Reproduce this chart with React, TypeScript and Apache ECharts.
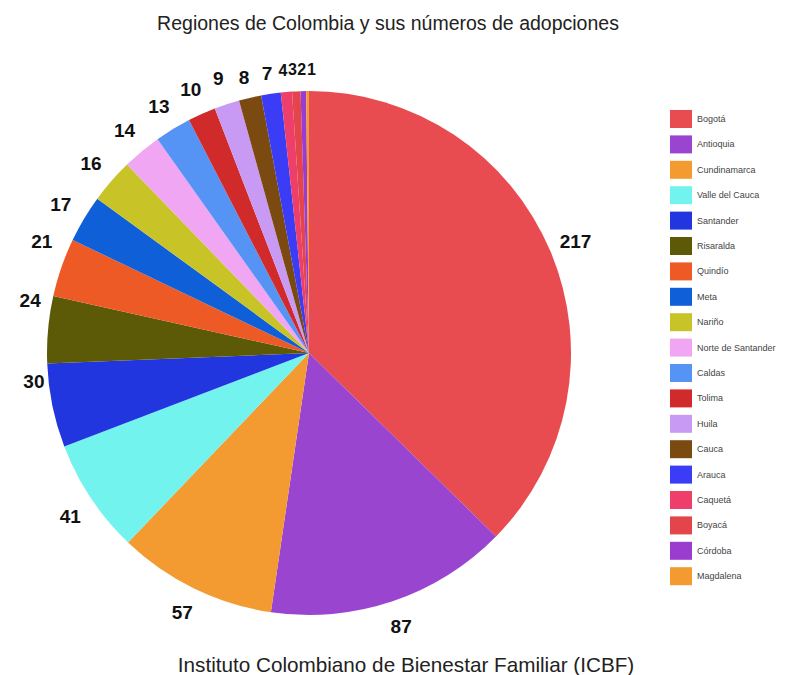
import React, { useEffect, useRef } from "react";
import * as echarts from "echarts";

const regions = [
  "Bogotá", "Antioquia", "Cundinamarca", "Valle del Cauca", "Santander", "Risaralda",
  "Quindío", "Meta", "Nariño", "Norte de Santander", "Caldas", "Tolima", "Huila",
  "Cauca", "Arauca", "Caquetá", "Boyacá", "Córdoba", "Magdalena",
];
const adopciones = [217, 87, 57, 41, 30, 24, 21, 17, 16, 14, 13, 10, 9, 8, 7, 4, 3, 2, 1];
const colors = [
  "#e84c50", "#9a45d0", "#f39a30", "#72f3ee", "#2236e0", "#5c5a06", "#ee5a26",
  "#0f60d8", "#c8c428", "#f0a6f2", "#5593f5", "#d02a2a", "#c89af4", "#7b4a10",
  "#3b3cf5", "#ee3e6a", "#e4454b", "#9a3cd0", "#f39a30",
];
const titleText = "Regiones de Colombia y sus números de adopciones";
const footerText = "Instituto Colombiano de Bienestar Familiar (ICBF)";

// label layout nudges (pixels), keyed by region, mimicking the original's label placement
const labelNudges: Record<string, { offset: number[]; fontSize?: number }> = {
  "Valle del Cauca": { offset: [2, 4] },
  Santander: { offset: [8, -30] },
  Risaralda: { offset: [9, -27] },
  Quindío: { offset: [6, -17] },
  Arauca: { offset: [0, 6] },
  Cauca: { offset: [0, 6] },
  Caquetá: { offset: [-1, 5], fontSize: 16 },
  Boyacá: { offset: [-2.6, 5], fontSize: 16 },
  Córdoba: { offset: [-1.1, 5], fontSize: 16 },
  Magdalena: { offset: [4, 5], fontSize: 16 },
};

export default function App() {
  const ref = useRef<HTMLDivElement>(null);
  useEffect(() => {
    const chart = echarts.init(ref.current!, null, { renderer: "svg" });
    chart.setOption({
      animation: false,
      color: colors,
      textStyle: { fontFamily: "Liberation Sans, Arial, sans-serif" },
      title: [
        {
          text: titleText,
          left: 383,
          top: 8,
          textAlign: "center",
          textStyle: { fontSize: 19.5, fontWeight: "normal", color: "#222" },
        },
        {
          text: footerText,
          left: 401,
          top: 649,
          textAlign: "center",
          textStyle: { fontSize: 20.7, fontWeight: "normal", color: "#222" },
        },
      ],
      legend: {
        orient: "vertical",
        left: 665,
        top: 105,
        itemWidth: 22,
        itemHeight: 18,
        itemGap: 7.4,
        icon: "rect",
        textStyle: { fontSize: 9, color: "#444" },
        data: regions,
      },
      series: [
        {
          type: "pie",
          center: [309, 353],
          radius: [0, 262],
          startAngle: 90,
          clockwise: true,
          avoidLabelOverlap: false,
          itemStyle: { borderWidth: 0 },
          label: { show: false },
          labelLine: { show: false },
          data: regions.map((name, i) => ({ name, value: adopciones[i] })),
        },
        {
          type: "pie",
          center: [309, 353],
          radius: [274, 298],
          startAngle: 90,
          clockwise: true,
          silent: true,
          avoidLabelOverlap: false,
          legendHoverLink: false,
          itemStyle: { color: "rgba(0,0,0,0)", borderWidth: 0 },
          emphasis: { disabled: true },
          label: {
            show: true,
            position: "inside",
            formatter: "{c}",
            fontSize: 19,
            fontWeight: "bold",
            color: "#111",
          },
          labelLayout: { hideOverlap: false },
          labelLine: { show: false },
          data: regions.map((name, i) => {
            const nudge = labelNudges[name];
            return nudge
              ? {
                  name,
                  value: adopciones[i],
                  label: { offset: nudge.offset, fontSize: nudge.fontSize ?? 19 },
                }
              : { name, value: adopciones[i] };
          }),
        },
      ],
    });
    return () => chart.dispose();
  }, []);
  return (
    <div
      ref={ref}
      style={{ position: "fixed", left: 0, top: 0, width: 800, height: 675, background: "#fff" }}
    />
  );
}
